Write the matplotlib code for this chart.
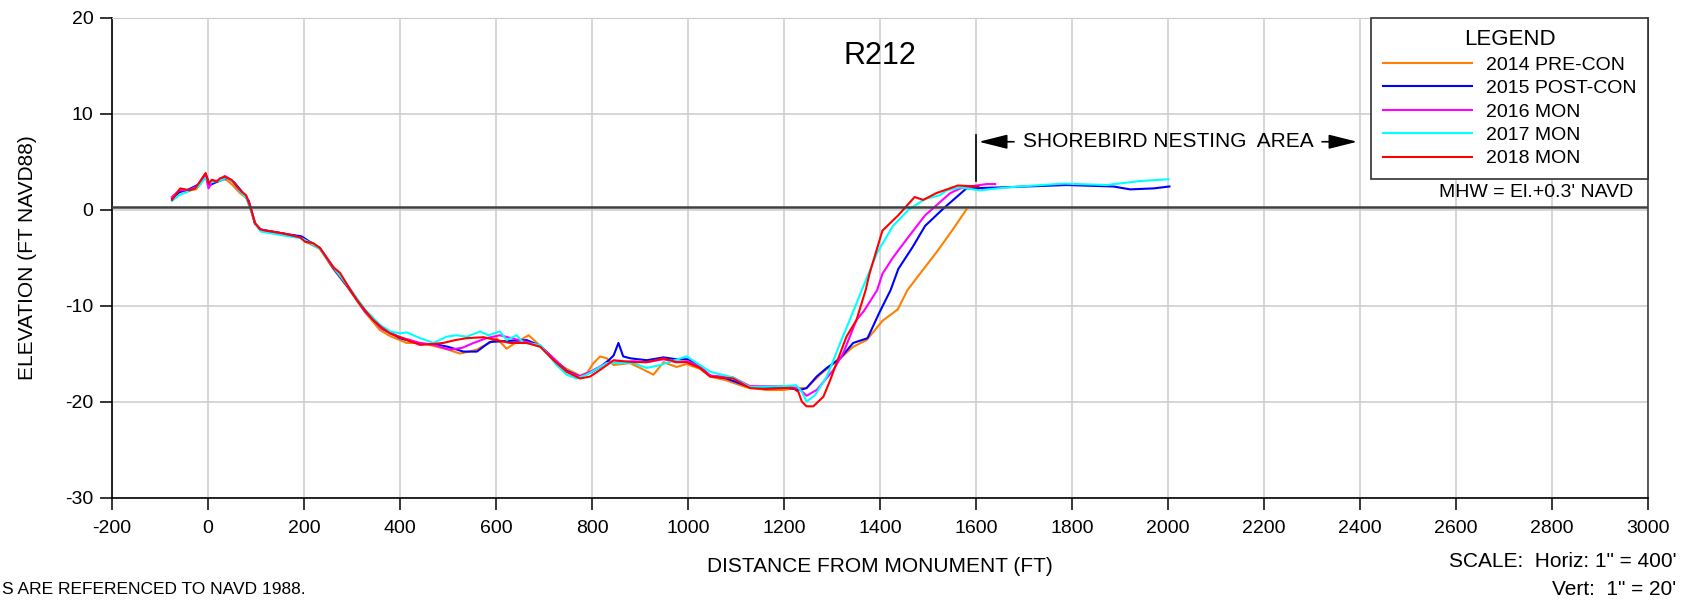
import matplotlib
matplotlib.use("Agg")
import matplotlib.pyplot as plt

plt.rcParams['font.family'] = ['Liberation Sans', 'DejaVu Sans']
plt.rcParams['axes.unicode_minus'] = False

# --- survey profiles (distance ft, elevation ft NAVD88) ---
x_2014 = [-75, -60, -40, -25, -15, -5, 2, 10, 20, 30, 39, 50, 67, 80, 88, 98, 110, 157, 192, 205,
          233, 261, 292, 327, 358, 380, 414, 442, 470, 500, 525, 560, 574, 587, 601, 622, 643, 668,
          692, 726, 747, 775, 790, 803, 817, 831, 845, 879, 900, 928, 949, 976, 997, 1025, 1046,
          1080, 1120, 1164, 1199, 1226, 1247, 1275, 1317, 1344, 1372, 1405, 1437, 1457, 1483,
          1517, 1550, 1580]
z_2014 = [1.3, 1.9, 2.0, 2.1, 2.7, 3.7, 2.6, 2.9, 3.0, 3.2, 3.07, 2.6, 1.7, 1.2, 0.1, -1.5, -2.1,
          -2.5, -2.9, -3.4, -4.1, -6.2, -8.2, -10.7, -12.55, -13.2, -13.9, -13.9, -14.2, -14.6,
          -15.0, -14.6, -14.2, -13.9, -13.4, -14.5, -13.8, -13.1, -14.2, -15.9, -16.6, -17.3,
          -17.0, -16.0, -15.3, -15.5, -16.2, -16.0, -16.5, -17.2, -15.9, -16.4, -16.1, -16.6,
          -17.4, -17.8, -18.5, -18.8, -18.8, -18.6, -18.6, -17.2, -15.5, -14.3, -13.6, -11.6,
          -10.4, -8.4, -6.7, -4.5, -2.2, 0.0]

x_2015 = [-75, -60, -40, -20, -5, 4, 15, 30, 40, 55, 70, 85, 98, 110, 157, 195, 210, 233, 261,
          292, 327, 362, 400, 442, 470, 500, 532, 560, 587, 620, 664, 692, 726, 747, 775, 800, 817,
          835, 845, 855, 865, 880, 914, 949, 976, 1000, 1025, 1046, 1080, 1129, 1199, 1233, 1247,
          1268, 1289, 1317, 1344, 1374, 1398, 1422, 1438, 1468, 1494, 1532, 1580, 1650, 1789,
          1886, 1921, 1970, 2003]
z_2015 = [1.1, 1.8, 2.1, 2.6, 3.7, 2.55, 2.8, 3.1, 3.3, 2.8, 1.9, 0.9, -1.5, -2.1, -2.5, -2.8,
          -3.3, -4.0, -6.1, -8.1, -10.6, -12.4, -13.4, -14.0, -14.0, -14.3, -14.8, -14.8, -13.8,
          -13.7, -13.6, -14.2, -15.8, -16.8, -17.4, -16.9, -16.4, -15.7, -15.2, -13.9, -15.3,
          -15.5, -15.7, -15.4, -15.6, -15.6, -16.4, -17.3, -17.6, -18.5, -18.5, -18.8, -18.6,
          -17.4, -16.5, -15.5, -13.9, -13.4, -10.8, -8.4, -6.2, -3.9, -1.7, 0.1, 2.2, 2.3, 2.55,
          2.4, 2.1, 2.2, 2.4]

x_2016 = [-75, -60, -40, -20, -5, 1, 10, 20, 35, 50, 65, 80, 88, 98, 110, 157, 192, 205, 233,
          261, 292, 327, 362, 400, 442, 470, 504, 530, 553, 580, 608, 640, 664, 692, 726, 747, 775,
          800, 830, 860, 886, 914, 949, 976, 1000, 1025, 1046, 1094, 1129, 1199, 1230, 1247, 1268,
          1303, 1323, 1351, 1366, 1394, 1405, 1427, 1460, 1494, 1546, 1567, 1594, 1622, 1640]
z_2016 = [1.3, 2.0, 2.0, 2.5, 3.6, 2.2, 3.0, 3.0, 3.5, 3.0, 2.0, 1.4, 0.3, -1.5, -2.1, -2.5,
          -2.9, -3.3, -4.0, -6.0, -8.0, -10.6, -12.4, -13.3, -13.9, -14.1, -14.6, -14.4, -13.9,
          -13.4, -13.1, -13.5, -13.8, -14.2, -15.8, -16.9, -17.4, -16.8, -16.0, -15.9, -15.8,
          -15.9, -15.6, -15.9, -15.8, -16.4, -17.3, -17.5, -18.4, -18.4, -18.6, -19.4, -18.8,
          -16.7, -15.0, -11.5, -10.6, -8.4, -6.7, -5.0, -2.8, -0.6, 1.7, 2.2, 2.45, 2.65, 2.65]

x_2017 = [-75, -60, -40, -20, -5, 2, 12, 25, 38, 50, 65, 80, 90, 100, 110, 157, 195, 210, 233,
          261, 292, 327, 358, 380, 400, 414, 442, 470, 497, 517, 539, 567, 584, 608, 622, 643, 657,
          692, 726, 747, 768, 789, 831, 886, 914, 942, 997, 1025, 1046, 1094, 1129, 1199, 1225,
          1237, 1247, 1265, 1289, 1303, 1317, 1337, 1362, 1394, 1427, 1460, 1494, 1525, 1539,
          1567, 1594, 1608, 1664, 1782, 1872, 1942, 2001]
z_2017 = [0.9, 1.5, 1.9, 2.4, 3.3, 2.8, 2.9, 3.0, 3.3, 3.0, 2.0, 1.2, -0.2, -1.6, -2.3, -2.7,
          -3.0, -3.4, -4.1, -6.0, -8.0, -10.4, -12.0, -12.7, -12.9, -12.8, -13.4, -13.9, -13.25,
          -13.1, -13.25, -12.7, -13.1, -12.7, -13.6, -13.1, -13.9, -14.1, -16.2, -17.2, -17.6,
          -17.2, -16.0, -16.0, -16.5, -16.2, -15.3, -16.2, -16.9, -17.5, -18.5, -18.4, -18.3,
          -19.0, -20.0, -19.3, -17.4, -15.7, -13.9, -11.5, -8.4, -4.5, -1.7, 0.0, 1.1, 1.5, 2.0,
          2.3, 2.1, 2.0, 2.3, 2.7, 2.55, 2.97, 3.15]

x_2018 = [-75, -58, -38, -27, -17, -5, 1, 8, 18, 25, 35, 49, 60, 70, 79, 88, 98, 108, 120, 157,
          192, 202, 219, 233, 247, 261, 275, 292, 310, 327, 344, 362, 379, 400, 420, 442, 470, 490,
          515, 539, 574, 601, 629, 664, 692, 720, 747, 775, 796, 817, 845, 865, 886, 914, 949, 976,
          997, 1025, 1046, 1067, 1094, 1129, 1160, 1199, 1219, 1230, 1237, 1247, 1261, 1282, 1296,
          1310, 1330, 1351, 1370, 1378, 1405, 1438, 1472, 1490, 1517, 1562, 1605]
z_2018 = [1.0, 2.2, 2.0, 2.2, 2.9, 3.8, 2.7, 3.1, 2.9, 3.25, 3.4, 3.1, 2.4, 1.85, 1.5, 0.3, -1.4,
          -2.05, -2.2, -2.5, -2.9, -3.35, -3.5, -4.0, -5.0, -6.0, -6.6, -8.0, -9.4, -10.5, -11.5,
          -12.3, -12.9, -13.3, -13.7, -14.1, -14.0, -13.9, -13.6, -13.4, -13.3, -13.6, -13.9,
          -13.9, -14.3, -15.7, -16.9, -17.6, -17.4, -16.7, -15.7, -15.8, -15.9, -15.9, -15.5,
          -15.9, -15.9, -16.5, -17.4, -17.5, -17.6, -18.6, -18.7, -18.6, -18.6, -19.0, -20.0,
          -20.5, -20.5, -19.5, -17.8, -15.9, -13.25, -11.5, -8.4, -6.7, -2.2, -0.6, 1.3, 1.0,
          1.7, 2.5, 2.4]

surveys = [
    ("2014 PRE-CON", x_2014, z_2014, "#ff8000"),
    ("2015 POST-CON", x_2015, z_2015, "#0000ff"),
    ("2016 MON", x_2016, z_2016, "#ff00ff"),
    ("2017 MON", x_2017, z_2017, "#00ffff"),
    ("2018 MON", x_2018, z_2018, "#ff0000"),
]

mhw = 0.3
nesting_start, nesting_end = 1600, 2400

fig = plt.figure(figsize=(16.87, 6), dpi=100)
ax = fig.add_axes([0.0664, 0.1708, 0.9105, 0.8])

for label, xs, zs, col in surveys:
    ax.plot(xs, zs, color=col, lw=1.5, label=label)

ax.axhline(mhw, color="#404040", lw=1.8, zorder=3)
ax.text(2970, mhw + 0.6, "MHW = El.+0.3' NAVD", ha="right", va="bottom", fontsize=14)

ax.set_xlim(-200, 3000)
ax.set_ylim(-30, 20)
ax.set_xticks(range(-200, 3001, 200))
ax.set_yticks(range(-30, 21, 10))
ax.grid(True, color="#cccccc", lw=1.1)
ax.set_axisbelow(True)
ax.tick_params(direction="out", length=8.5, width=1.1, labelsize=14, pad=5)
ax.tick_params(axis="x", pad=8)
for side in ["left", "bottom"]:
    ax.spines[side].set_color("black")
    ax.spines[side].set_linewidth(1.2)
ax.spines["right"].set_color("#404040")
ax.spines["right"].set_linewidth(1.2)
ax.spines["top"].set_color("#cccccc")

ax.set_xlabel("DISTANCE FROM MONUMENT (FT)", fontsize=15, labelpad=14)
ax.set_ylabel("ELEVATION (FT NAVD88)", fontsize=15, labelpad=20)
ax.text(0.5, 0.92, "R212", transform=ax.transAxes, ha="center", va="center", fontsize=22)

# shorebird nesting area marker
y_arrow = 7.06
ax.plot([nesting_start, nesting_start], [3.0, 7.8], color="black", lw=1.2)
ax.annotate("", xy=(nesting_start, y_arrow), xytext=(nesting_start + 85, y_arrow),
            arrowprops=dict(arrowstyle="-|>,head_length=0.8,head_width=0.2",
                            color="black", lw=1.2, mutation_scale=22))
ax.annotate("", xy=(nesting_end, y_arrow), xytext=(nesting_end - 85, y_arrow),
            arrowprops=dict(arrowstyle="-|>,head_length=0.8,head_width=0.2",
                            color="black", lw=1.2, mutation_scale=22))
ax.text((nesting_start + nesting_end) / 2, y_arrow, "SHOREBIRD NESTING  AREA",
        ha="center", va="center", fontsize=15)

leg = ax.legend(loc="upper right", bbox_to_anchor=(1.0, 1.0), borderaxespad=0,
                title="LEGEND", title_fontsize=16, fontsize=14, fancybox=False,
                handlelength=4.6, handletextpad=0.7, labelspacing=0.3,
                borderpad=0.6, framealpha=1)
leg.get_frame().set_edgecolor("#303030")
leg.get_frame().set_linewidth(1.2)
leg.set_zorder(5)

fig.text(0.9935, 0.064, "SCALE:  Horiz: 1\" = 400'", ha="right", va="center", fontsize=15)
fig.text(0.9935, 0.0173, "Vert:  1\" = 20'", ha="right", va="center", fontsize=15)
fig.text(0.001, 0.0173, "S ARE REFERENCED TO NAVD 1988.", ha="left", va="center", fontsize=12.5)

fig.savefig("out.png", dpi=100)
